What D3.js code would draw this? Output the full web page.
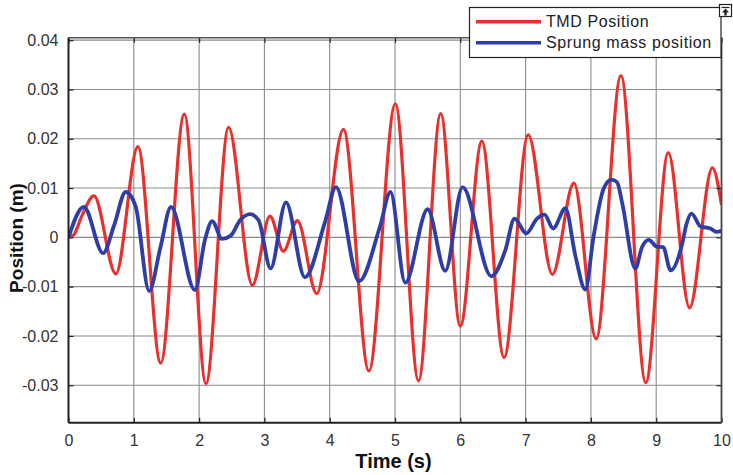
<!DOCTYPE html>
<html>
<head>
<meta charset="utf-8">
<script src="https://cdn.jsdelivr.net/npm/d3@7"></script>
<style>
  html, body { margin: 0; padding: 0; background: #fff; }
  svg { display: block; }
  text { font-family: "Liberation Sans", Arial, sans-serif; }
</style>
</head>
<body>
<svg id="chart" width="733" height="475"></svg>
<script>
// Time samples (s) and displacements (m) for the TMD response
const tmdTime = [0, 0.08, 0.2, 0.39, 0.725, 1.063, 1.412, 1.773, 2.105, 2.452, 2.815, 3.086, 3.29, 3.505, 3.80,
  4.21, 4.60, 5.005, 5.36, 5.70, 6.00, 6.33, 6.67, 7.04, 7.41, 7.74, 8.08, 8.46, 8.84, 9.185, 9.51, 9.86, 10];
const tmdPos = [0, 0.0005, 0.0042, 0.0084, -0.0074, 0.0184, -0.0255, 0.025, -0.0297, 0.0223, -0.0097, 0.0043, -0.0028, 0.0034, -0.0114,
  0.0219, -0.0271, 0.0271, -0.0291, 0.0251, -0.018, 0.0195, -0.0244, 0.0208, -0.0075, 0.011, -0.0206, 0.0328, -0.0295, 0.0172, -0.0143, 0.0141, 0.0066];

// Time samples (s) and displacements (m) for the sprung mass
const sprungTime = [0, 0.235, 0.53, 0.70, 0.875, 1.03, 1.235, 1.41, 1.57, 1.935, 2.09, 2.20, 2.35, 2.48, 2.63, 2.78, 2.91,
  3.095, 3.33, 3.62, 3.93, 4.095, 4.45, 4.77, 4.93, 5.157, 5.50, 5.77, 6.035, 6.475, 6.69, 6.83, 7.01, 7.175, 7.29, 7.42,
  7.61, 7.76, 7.915, 8.04, 8.196, 8.314, 8.40, 8.48, 8.68, 8.785, 8.886, 9.01, 9.107, 9.22, 9.40, 9.46, 9.54, 9.68, 9.83, 9.92, 10];
const sprungPos = [0, 0.0062, -0.0032, 0.0025, 0.0092, 0.0062, -0.0109, -0.0019, 0.0062, -0.0107, -0.0005, 0.0033, -0.0003, 0.0003, 0.0035, 0.0047, 0.0035,
  -0.0063, 0.0071, -0.0081, 0.0032, 0.0102, -0.0089, 0.0022, 0.0092, -0.0092, 0.0057, -0.0068, 0.0102, -0.0079, -0.0026, 0.0038, 0.0008, 0.0038, 0.0046, 0.0018,
  0.0059, -0.0036, -0.0106, 0.0001, 0.0099, 0.0117, 0.0112, 0.0069, -0.0063, -0.0019, -0.0005, -0.0019, -0.002, -0.0067, -0.0012, 0.0025, 0.0048, 0.0022, 0.0018, 0.0011, 0.0013];

// Axis ticks and labels
const xTicks = [0, 1, 2, 3, 4, 5, 6, 7, 8, 9, 10];
const xTickLabels = ["0", "1", "2", "3", "4", "5", "6", "7", "8", "9", "10"];
const yTicks = [-0.03, -0.02, -0.01, 0, 0.01, 0.02, 0.03, 0.04];
const yTickLabels = ["-0.03", "-0.02", "-0.01", "0", "0.01", "0.02", "0.03", "0.04"];

const seriesNames = ["TMD Position", "Sprung mass position"];
const seriesColors = ["#e8302c", "#2e3ea6"];

const svg = d3.select("#chart");
const plotL = 68.5, plotR = 721.5, plotT = 37.7, plotB = 422.7;

const x = d3.scaleLinear().domain([0, 10]).range([plotL, plotR]);
const y = d3.scaleLinear().domain([-0.0376, 0.0405]).range([plotB, plotT]);

svg.append("rect").attr("width", 733).attr("height", 475).attr("fill", "#fff");

// grid
const grid = svg.append("g").attr("stroke", "#8c8c8c").attr("stroke-width", 1.1);
grid.selectAll("line.gx").data(xTicks.slice(1, -1)).join("line")
  .attr("x1", d => x(d)).attr("x2", d => x(d)).attr("y1", plotT).attr("y2", plotB);
grid.selectAll("line.gy").data(yTicks).join("line")
  .attr("x1", plotL).attr("x2", plotR).attr("y1", d => y(d)).attr("y2", d => y(d));

// series
const lineGen = d3.line().x(d => x(d[0])).y(d => y(d[1])).curve(d3.curveMonotoneX);
const tmd = tmdTime.map((t, i) => [t, tmdPos[i]]);
const sprung = sprungTime.map((t, i) => [t, sprungPos[i]]);

svg.append("clipPath").attr("id", "plotclip").append("rect")
  .attr("x", plotL).attr("y", plotT).attr("width", plotR - plotL).attr("height", plotB - plotT);

svg.append("path").datum(tmd).attr("d", lineGen)
  .attr("fill", "none").attr("stroke", seriesColors[0]).attr("stroke-width", 3.2)
  .attr("stroke-linejoin", "round").attr("clip-path", "url(#plotclip)");
svg.append("path").datum(sprung).attr("d", lineGen)
  .attr("fill", "none").attr("stroke", seriesColors[1]).attr("stroke-width", 3.8)
  .attr("stroke-linejoin", "round").attr("clip-path", "url(#plotclip)");

// axes (inward ticks on all sides)
const tickLen = 5;
const xAxis = d3.axisBottom(x).tickValues(xTicks).tickSizeInner(-tickLen).tickSizeOuter(0)
  .tickPadding(12).tickFormat((d, i) => xTickLabels[i]);
const yAxis = d3.axisLeft(y).tickValues(yTicks).tickSizeInner(-tickLen).tickSizeOuter(0)
  .tickPadding(10).tickFormat((d, i) => yTickLabels[i]);
const xAxisTop = d3.axisTop(x).tickValues(xTicks).tickSizeInner(-tickLen).tickSizeOuter(0).tickFormat("");
const yAxisRight = d3.axisRight(y).tickValues(yTicks).tickSizeInner(-tickLen).tickSizeOuter(0).tickFormat("");

function styleAxis(g) {
  g.select(".domain").remove();
  g.selectAll(".tick line").attr("stroke", "#222").attr("stroke-width", 1.2);
  g.selectAll(".tick text").attr("fill", "#333").attr("font-size", 16);
}
svg.append("g").attr("transform", `translate(0,${plotB})`).call(xAxis).call(styleAxis);
svg.append("g").attr("transform", `translate(${plotL},0)`).call(yAxis).call(styleAxis);
svg.append("g").attr("transform", `translate(0,${plotT})`).call(xAxisTop).call(styleAxis);
svg.append("g").attr("transform", `translate(${plotR},0)`).call(yAxisRight).call(styleAxis);

// frame
svg.append("line").attr("x1", plotL).attr("x2", plotR).attr("y1", plotT).attr("y2", plotT)
  .attr("stroke", "#555").attr("stroke-width", 1.6);
svg.append("line").attr("x1", plotR).attr("x2", plotR).attr("y1", plotT).attr("y2", plotB)
  .attr("stroke", "#444").attr("stroke-width", 1.8);
svg.append("line").attr("x1", plotL).attr("x2", plotR).attr("y1", plotB).attr("y2", plotB)
  .attr("stroke", "#222").attr("stroke-width", 2);
svg.append("line").attr("x1", plotL).attr("x2", plotL).attr("y1", plotT).attr("y2", plotB)
  .attr("stroke", "#222").attr("stroke-width", 2);

// axis titles
svg.append("text").attr("x", 393.5).attr("y", 467.5).attr("text-anchor", "middle")
  .attr("font-size", 20).attr("font-weight", "bold").attr("fill", "#111").text("Time (s)");
svg.append("text").attr("transform", "translate(23,238) rotate(-90)").attr("text-anchor", "middle")
  .attr("font-size", 19).attr("font-weight", "bold").attr("fill", "#111").text("Position (m)");

// legend
const legend = svg.append("g");
legend.append("rect").attr("x", 469.5).attr("y", 7.5).attr("width", 251.5).attr("height", 50)
  .attr("fill", "#fff").attr("stroke", "#222").attr("stroke-width", 1.2);
seriesNames.forEach((name, i) => {
  const ly = 21.7 + i * 21;
  legend.append("line").attr("x1", 476).attr("x2", 541).attr("y1", ly).attr("y2", ly)
    .attr("stroke", seriesColors[i]).attr("stroke-width", 3.5);
  legend.append("text").attr("x", 546).attr("y", ly + 5.5).attr("font-size", 16)
    .attr("letter-spacing", 0.6).attr("fill", "#222").text(name);
});

// small dock button at the legend corner
const btn = svg.append("g").attr("transform", "translate(719.5,4.5)");
btn.append("rect").attr("width", 12).attr("height", 12).attr("fill", "#fff")
  .attr("stroke", "#222").attr("stroke-width", 1.2);
btn.append("line").attr("x1", 2).attr("x2", 10).attr("y1", 3).attr("y2", 3).attr("stroke", "#222").attr("stroke-width", 1.2);
btn.append("path").attr("d", "M6,4 L9.5,8 L7.2,8 L7.2,11 L4.8,11 L4.8,8 L2.5,8 Z").attr("fill", "#222");
</script>
</body>
</html>
